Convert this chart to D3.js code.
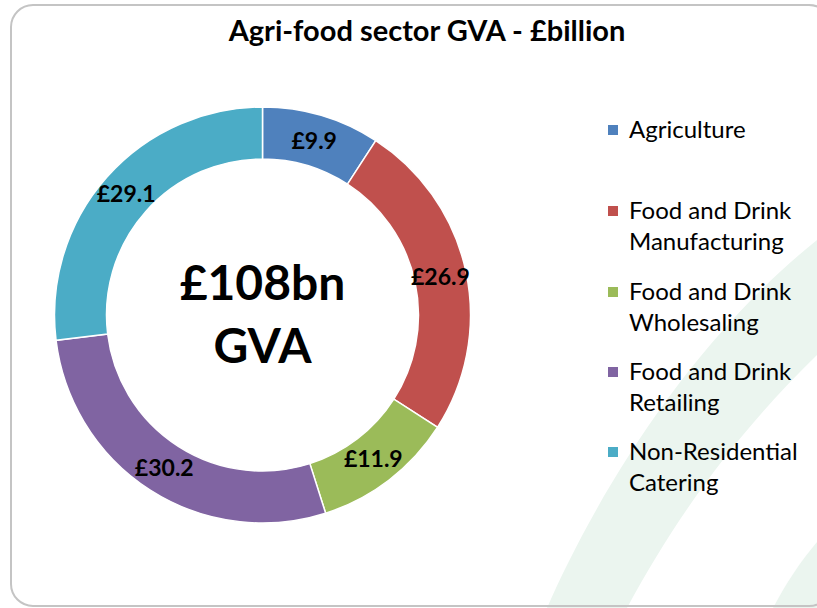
<!DOCTYPE html>
<html>
<head>
<meta charset="utf-8">
<script src="https://cdn.jsdelivr.net/npm/d3@7"></script>
<style>
  body { margin: 0; background: #fff; }
  svg { display: block; font-family: Lato, "Open Sans", sans-serif; }
</style>
</head>
<body>
<svg id="donut"></svg>
<script>
const svg_width = 817;
const svg_height = 608;

// data
var sectors = ["Agriculture", "Food and Drink Manufacturing", "Food and Drink Wholesaling",
               "Food and Drink Retailing", "Non-Residential Catering"];
var legend_lines = [["Agriculture"], ["Food and Drink", "Manufacturing"], ["Food and Drink", "Wholesaling"],
                    ["Food and Drink", "Retailing"], ["Non-Residential", "Catering"]];
var gva = [9.9, 26.9, 11.9, 30.2, 29.1];
var colors = ["#4F81BD", "#C0504D", "#9BBB59", "#8064A2", "#4BACC6"];

var center = { x: 262.5, y: 315 };
var outer_r = 208;
var inner_r = 156;

var svg = d3.select("svg#donut")
    .attr("width", svg_width)
    .attr("height", svg_height);

// faint green swooshes in the background
var bg = svg.append("g");
bg.append("path")
  .attr("d", "M547,608 C590,510 680,350 817,240 L817,355 C740,430 680,510 627,608 Z")
  .attr("fill", "#ebf5ef");
bg.append("path")
  .attr("d", "M773,608 C785,585 800,562 817,542 L817,608 Z")
  .attr("fill", "#ebf5ef");

// frame
svg.append("rect")
  .attr("x", 11).attr("y", 5)
  .attr("width", 820).attr("height", 601)
  .attr("rx", 22)
  .attr("fill", "none")
  .attr("stroke", "#c4c4c4")
  .attr("stroke-width", 2);

svg.append("text")
  .attr("x", 427).attr("y", 41)
  .attr("text-anchor", "middle")
  .style("font-size", "29px")
  .style("font-weight", "bold")
  .text("Agri-food sector GVA - £billion");

var pie = d3.pie().sort(null).value(d => d);
var arc = d3.arc().innerRadius(inner_r).outerRadius(outer_r);

var g = svg.append("g")
  .attr("transform", "translate(" + center.x + "," + center.y + ")");

var arcs = pie(gva);

g.selectAll("path.slice")
  .data(arcs)
  .enter()
  .append("path")
  .attr("class", "slice")
  .attr("d", arc)
  .attr("fill", (d, i) => colors[i])
  .attr("stroke", "#fff")
  .attr("stroke-width", 1.5);

g.selectAll("text.lbl")
  .data(arcs)
  .enter()
  .append("text")
  .attr("class", "lbl")
  .attr("transform", d => "translate(" + arc.centroid(d) + ")")
  .attr("text-anchor", "middle")
  .attr("dy", "0.35em")
  .style("font-size", "23px")
  .style("font-weight", "bold")
  .text(d => "£" + d.data.toFixed(1));

g.append("text")
  .attr("y", -15)
  .attr("text-anchor", "middle")
  .style("font-size", "48px")
  .style("font-weight", "bold")
  .text("£" + Math.round(d3.sum(gva)) + "bn");

g.append("text")
  .attr("y", 48)
  .attr("text-anchor", "middle")
  .style("font-size", "48px")
  .style("font-weight", "bold")
  .text("GVA");

// legend
var legend_y = [130, 211, 292, 372, 452];
var leg = svg.append("g");
sectors.forEach((s, i) => {
  leg.append("rect")
    .attr("x", 608).attr("y", legend_y[i] - 5)
    .attr("width", 10).attr("height", 10)
    .attr("fill", colors[i]);
  var t = leg.append("text")
    .attr("x", 629).attr("y", legend_y[i] + 8)
    .style("font-size", "24px");
  legend_lines[i].forEach((line, j) => {
    t.append("tspan").attr("x", 629).attr("dy", j === 0 ? 0 : 31).text(line);
  });
});
</script>
</body>
</html>
